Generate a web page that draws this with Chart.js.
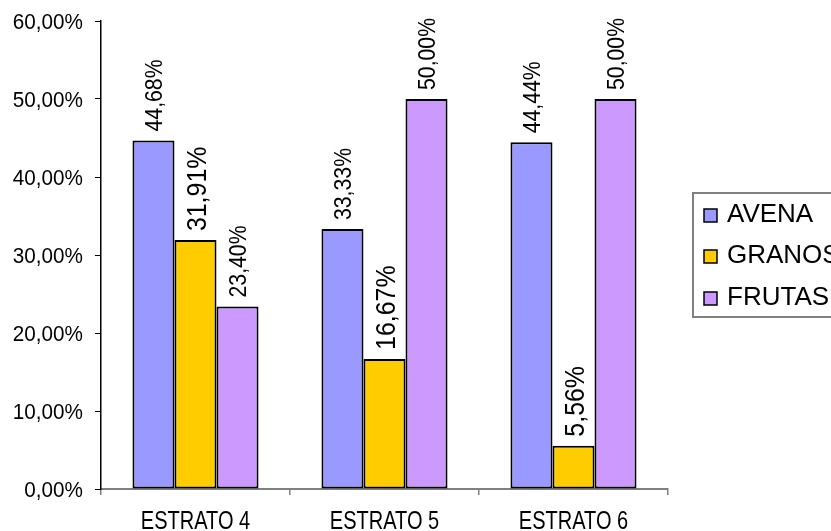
<!DOCTYPE html>
<html>
<head>
<meta charset="utf-8">
<title>Estratos</title>
<script src="https://cdn.jsdelivr.net/npm/chart.js@4.4.1/dist/chart.umd.min.js"></script>
<style>
  html, body { margin: 0; padding: 0; background: #ffffff; }
  #wrap { width: 831px; height: 531px; position: relative; }
  canvas { display: block; }
</style>
</head>
<body>
<div id="wrap"><canvas id="chart" width="831" height="531"></canvas></div>
<script>
// Categories and series (percentages)
const categories = ['ESTRATO 4', 'ESTRATO 5', 'ESTRATO 6'];
const seriesNames = ['AVENA', 'GRANOS', 'FRUTAS'];
const avena  = [44.68, 33.33, 44.44];
const granos = [31.91, 16.67, 5.56];
const frutas = [23.40, 50.00, 50.00];

// Value axis range
const yMin = 0;
const yMax = 60;
const yStep = 10;

const FONT = "'Liberation Sans', Arial, Helvetica, sans-serif";
const fmtPct = v => v.toFixed(2).replace('.', ',') + '%';

// Draw a string with horizontal compression (optionally rotated)
function drawText(ctx, text, x, y, size, sx, align, rotate) {
  ctx.save();
  ctx.translate(x, y);
  if (rotate) ctx.rotate(rotate);
  ctx.scale(sx, 1);
  ctx.font = size + 'px ' + FONT;
  ctx.fillStyle = '#000000';
  ctx.textAlign = align;
  ctx.textBaseline = 'alphabetic';
  ctx.fillText(text, 0, 0);
  ctx.restore();
}

// Axis tick labels, placed from the scales' own ticks
const axisLabels = {
  id: 'axisLabels',
  afterDraw(chart) {
    const ctx = chart.ctx;
    const ys = chart.scales.y;
    ys.ticks.forEach((t, i) => {
      const py = ys.getPixelForTick(i);
      drawText(ctx, t.label, 83, py + 7.9, 22, 0.94, 'right');
    });
    const xs = chart.scales.x;
    xs.ticks.forEach((t, i) => {
      const px = xs.getPixelForTick(i);
      drawText(ctx, String(t.label), px, chart.chartArea.bottom + 40, 26, 0.77, 'center');
    });
  }
};

// Vertical value labels above each bar
const valueLabels = {
  id: 'valueLabels',
  afterDatasetsDraw(chart) {
    const ctx = chart.ctx;
    chart.data.datasets.forEach((ds, di) => {
      const meta = chart.getDatasetMeta(di);
      const big = di === 1;
      const size = big ? 28 : 24;
      const sx = big ? 0.89 : 0.885;
      meta.data.forEach((bar, i) => {
        const txt = fmtPct(ds.data[i]);
        drawText(ctx, txt, bar.x + 0.358 * size, bar.y - 9, size, sx, 'left', -Math.PI / 2);
      });
    });
  }
};

// Boxed legend on the right
const boxLegend = {
  id: 'boxLegend',
  afterDraw(chart) {
    const ctx = chart.ctx;
    ctx.save();
    ctx.strokeStyle = '#808080';
    ctx.lineWidth = 2;
    ctx.strokeRect(693, 193, 220, 124);
    ctx.restore();
    const baselines = [222, 263, 305];
    chart.data.datasets.forEach((ds, i) => {
      const b = baselines[i];
      ctx.save();
      ctx.fillStyle = ds.backgroundColor;
      ctx.fillRect(704, b - 13, 13, 13);
      ctx.strokeStyle = '#000000';
      ctx.lineWidth = 1.5;
      ctx.strokeRect(704, b - 13, 13, 13);
      ctx.restore();
      drawText(ctx, ds.label, 727, b, 26, 1.0, 'left');
    });
  }
};

const colors = ['#9999FF', '#FFCC00', '#CC99FF'];
const seriesData = [avena, granos, frutas];

new Chart(document.getElementById('chart'), {
  type: 'bar',
  data: {
    labels: categories,
    datasets: seriesNames.map((name, i) => ({
      label: name,
      data: seriesData[i],
      backgroundColor: colors[i],
      borderColor: '#000000',
      borderWidth: 2,
      borderSkipped: false,
      categoryPercentage: 0.667,
      barPercentage: 1.0
    }))
  },
  options: {
    responsive: false,
    animation: false,
    devicePixelRatio: 1,
    layout: { padding: { left: 0, top: 21, right: 163, bottom: 0 } },
    plugins: {
      legend: { display: false },
      tooltip: { enabled: false }
    },
    scales: {
      x: {
        type: 'category',
        grid: {
          display: true,
          drawOnChartArea: false,
          drawTicks: true,
          tickLength: 6,
          color: '#808080',
          lineWidth: 1.5,
          offset: true
        },
        border: { display: true, color: '#808080', width: 2 },
        ticks: { display: false },
        afterFit(scale) { scale.height = 42; }
      },
      y: {
        min: yMin,
        max: yMax,
        grid: {
          display: true,
          drawOnChartArea: false,
          drawTicks: true,
          tickLength: 6,
          color: '#000000',
          lineWidth: 1
        },
        border: { display: true, color: '#000000', width: 1.5 },
        ticks: {
          display: false,
          stepSize: yStep,
          callback: v => fmtPct(v)
        },
        afterFit(scale) { scale.width = 101; }
      }
    }
  },
  plugins: [valueLabels, axisLabels, boxLegend]
});
</script>
</body>
</html>
